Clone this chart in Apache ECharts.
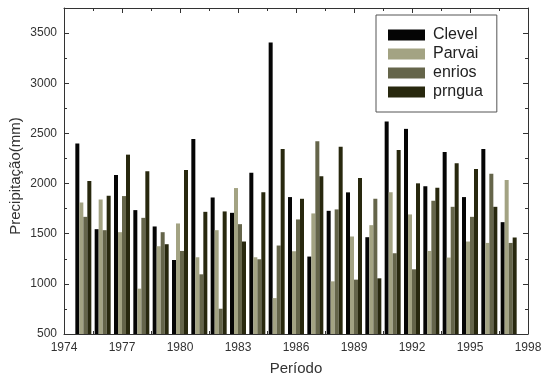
<!DOCTYPE html>
<html>
<head>
<meta charset="utf-8">
<script src="https://cdn.jsdelivr.net/npm/echarts@6/dist/echarts.min.js"></script>
<style>
  html, body { margin: 0; padding: 0; background: #fff; }
  #chart { width: 544px; height: 378px; }
</style>
</head>
<body>
<div id="chart"></div>
<script>
// anos e séries (mm)
const years = [1975, 1976, 1977, 1978, 1979, 1980, 1981, 1982, 1983, 1984, 1985, 1986,
  1987, 1988, 1989, 1990, 1991, 1992, 1993, 1994, 1995, 1996, 1997];
const clevel = [2400, 1545, 2085, 1735, 1572, 1238, 2445, 1862, 1708, 2108, 3405, 1865,
  1272, 1728, 1912, 1465, 2618, 2545, 1972, 2315, 1865, 2345, 1615];
const parvai = [1812, 1842, 1515, 952, 1375, 1602, 1265, 1535, 1955, 1265, 858, 1325,
  1702, 1025, 1472, 1585, 1912, 1692, 1328, 1262, 1422, 1408, 2035];
const enrios = [1668, 1535, 1875, 1658, 1515, 1328, 1095, 752, 1595, 1245, 1382, 1642,
  2422, 1742, 1042, 1848, 1305, 1145, 1828, 1768, 1668, 2098, 1408];
const prngua = [2025, 1878, 2288, 2122, 1395, 2135, 1718, 1722, 1422, 1912, 2345, 1848,
  2072, 2368, 2055, 1055, 2335, 2002, 1958, 2202, 2145, 1768, 1462];
const xTicks = [1974, 1977, 1980, 1983, 1986, 1989, 1992, 1995, 1998];
const yTicks = [500, 1000, 1500, 2000, 2500, 3000, 3500];

const names = ['Clevel', 'Parvai', 'enrios', 'prngua'];
const colors = ['#050505', '#a3a383', '#65654a', '#28280e'];
const allData = [clevel, parvai, enrios, prngua];

const myChart = echarts.init(document.getElementById('chart'));

const axisColor = '#333';
const fontFam = '"Liberation Sans", Arial, sans-serif';

const xBase = {
  type: 'value',
  min: xTicks[0],
  max: xTicks[xTicks.length - 1],
  interval: 3,
  axisLine: { show: true, lineStyle: { color: axisColor, width: 1 } },
  axisTick: { show: true, inside: true, length: 5, lineStyle: { color: axisColor } },
  minorTick: { show: true, splitNumber: 2, length: 3, lineStyle: { color: axisColor } },
  splitLine: { show: false },
  minorSplitLine: { show: false }
};
const yBase = {
  type: 'value',
  min: yTicks[0],
  max: 3750,
  interval: 500,
  axisLine: { show: true, lineStyle: { color: axisColor, width: 1 } },
  axisTick: { show: true, inside: true, length: 5, lineStyle: { color: axisColor } },
  minorTick: { show: true, splitNumber: 2, length: 3, lineStyle: { color: axisColor } },
  splitLine: { show: false },
  minorSplitLine: { show: false }
};

const option = {
  animation: false,
  backgroundColor: '#fff',
  textStyle: { fontFamily: fontFam },
  grid: { left: 64, right: 16, top: 8, bottom: 44, containLabel: false, outerBoundsMode: 'none' },
  // título do eixo y
  graphic: [{
    type: 'text',
    x: 16,
    y: 176,
    rotation: Math.PI / 2,
    style: {
      text: 'Precipitação(mm)',
      fontSize: 15,
      fontFamily: fontFam,
      fill: '#333',
      align: 'center',
      verticalAlign: 'middle'
    }
  }],
  legend: {
    data: names,
    orient: 'vertical',
    left: 376,
    top: 15,
    padding: [12, 14, 12, 12],
    itemWidth: 37,
    itemHeight: 11,
    itemGap: 3,
    icon: 'rect',
    backgroundColor: '#fff',
    borderColor: '#555',
    borderWidth: 1,
    borderRadius: 0,
    textStyle: { fontSize: 16, color: '#222', fontFamily: fontFam, lineHeight: 16, padding: [0, 0, 0, 3] }
  },
  xAxis: [
    Object.assign({}, xBase, {
      position: 'bottom',
      name: 'Período',
      nameLocation: 'middle',
      nameGap: 27,
      nameTextStyle: { fontSize: 15, color: '#333', fontFamily: fontFam },
      axisLabel: {
        show: true, fontSize: 12, color: '#333', margin: 8, fontFamily: fontFam,
        formatter: function (v) { return String(v); }
      }
    }),
    Object.assign({}, xBase, { position: 'top', axisLabel: { show: false } })
  ],
  yAxis: [
    Object.assign({}, yBase, {
      position: 'left',
      axisLabel: {
        show: true, fontSize: 12, color: '#333', margin: 7, fontFamily: fontFam,
        showMaxLabel: false,
        formatter: function (v) { return yTicks.indexOf(v) >= 0 ? String(v) : ''; }
      }
    }),
    Object.assign({}, yBase, { position: 'right', axisLabel: { show: false } })
  ],
  series: names.map(function (n, i) {
    return {
      name: n,
      type: 'bar',
      xAxisIndex: 0,
      yAxisIndex: 0,
      barWidth: 4,
      barGap: '0%',
      itemStyle: { color: colors[i] },
      data: years.map(function (y, k) { return [y, allData[i][k]]; })
    };
  })
};

myChart.setOption(option);
</script>
</body>
</html>
